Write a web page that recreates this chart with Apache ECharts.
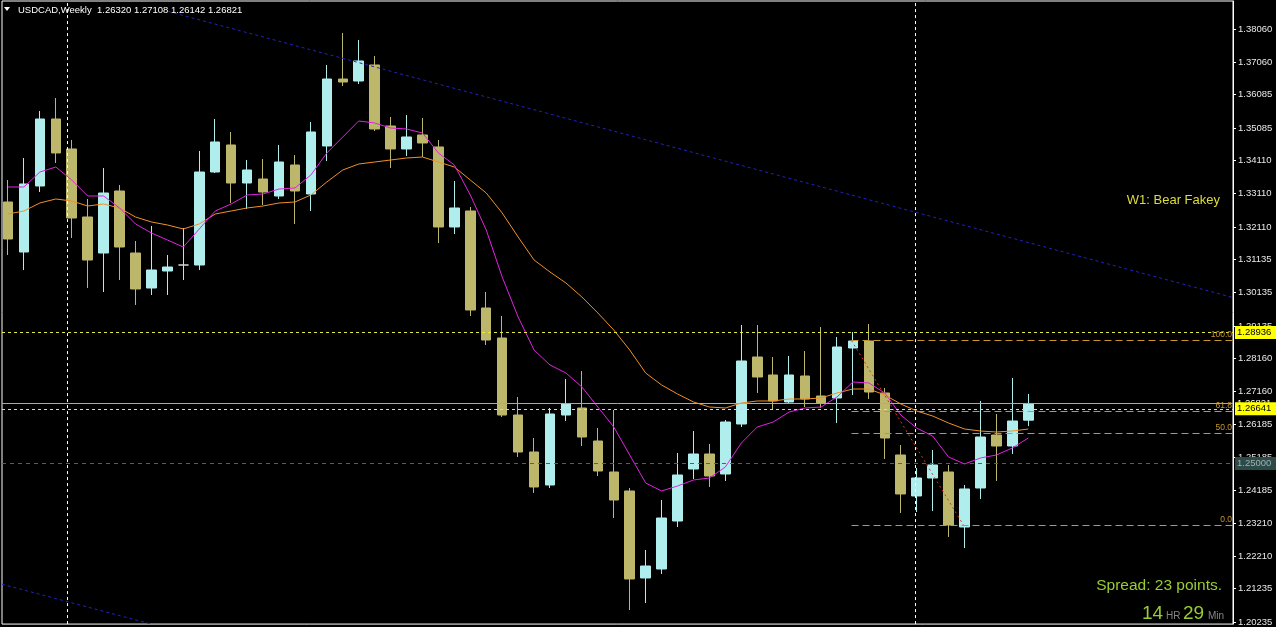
<!DOCTYPE html>
<html>
<head>
<meta charset="utf-8">
<script src="https://cdn.jsdelivr.net/npm/echarts@6/dist/echarts.min.js"></script>
<style>
html,body{margin:0;padding:0;background:#000;overflow:hidden;}
#c{width:1276px;height:627px;}
</style>
</head>
<body>
<div id="c"></div>
<script>
// ---------- DATA (weekly USDCAD) ----------
const symbolName = 'USDCAD,Weekly';
const opens = [1.32868,1.31367,1.33348,1.35359,1.34459,1.32418,1.31337,1.33198,1.31337,1.30287,
 1.30797,1.30977,1.30977,1.33768,1.34579,1.33438,1.33558,1.33048,1.33978,1.33108,
 1.34549,1.36559,1.36499,1.36980,1.35149,1.34459,1.34879,1.34519,1.32118,1.32598,
 1.29687,1.28786,1.26475,1.25365,1.24375,1.26475,1.26685,1.25695,1.24765,1.24195,
 1.21584,1.21854,1.23294,1.24855,1.25305,1.24705,1.26205,1.28216,1.27676,1.26866,
 1.27646,1.27046,1.26986,1.28486,1.28696,1.27136,1.25275,1.24045,1.24585,1.24765,
 1.23114,1.24285,1.25875,1.25545,1.26320];
const highs = [1.33528,1.34188,1.35599,1.35989,1.34729,1.32958,1.33888,1.33378,1.31697,1.32148,
 1.31277,1.32088,1.34399,1.35359,1.34969,1.34128,1.34158,1.34579,1.34278,1.35269,
 1.36980,1.37940,1.37730,1.37250,1.35419,1.35479,1.35389,1.34729,1.33498,1.32718,
 1.30167,1.29447,1.27016,1.25785,1.26685,1.27556,1.27796,1.26085,1.26625,1.24285,
 1.22424,1.23924,1.25335,1.25995,1.25605,1.26325,1.29176,1.29176,1.28216,1.28246,
 1.28396,1.29116,1.28816,1.28966,1.29206,1.27286,1.25575,1.24885,1.25425,1.24975,
 1.24375,1.26896,1.26505,1.27586,1.27108];
const lows = [1.31277,1.30827,1.33168,1.34038,1.31787,1.30287,1.30167,1.30527,1.29777,1.30077,
 1.30077,1.30527,1.30827,1.33738,1.32838,1.32658,1.32778,1.32958,1.32208,1.32598,
 1.34098,1.36349,1.36409,1.34999,1.33888,1.34248,1.34218,1.31637,1.31908,1.29447,
 1.28576,1.26415,1.25215,1.24135,1.24285,1.26295,1.25545,1.24645,1.23384,1.20623,
 1.20833,1.21704,1.23114,1.24555,1.24315,1.24495,1.26115,1.27136,1.26655,1.26806,
 1.26715,1.26685,1.26235,1.27076,1.26956,1.25155,1.23534,1.23564,1.23594,1.22814,
 1.22484,1.23954,1.24495,1.25305,1.26142];
const closes = [1.31757,1.33408,1.35359,1.34339,1.32388,1.31127,1.33138,1.31517,1.30257,1.30827,
 1.30917,1.30977,1.33768,1.34669,1.33438,1.33828,1.33168,1.34068,1.33198,1.34969,
 1.36559,1.36469,1.37100,1.35059,1.34459,1.34819,1.34639,1.32118,1.32688,1.29627,
 1.28726,1.26475,1.25365,1.24315,1.26505,1.26806,1.25815,1.24795,1.23924,1.21554,
 1.21944,1.23384,1.24675,1.25305,1.24645,1.26265,1.28096,1.27616,1.26896,1.27676,
 1.26956,1.26836,1.28516,1.28696,1.27166,1.25785,1.24105,1.24585,1.24975,1.23174,
 1.24255,1.25815,1.25545,1.26295,1.26821];
// magenta (fast) moving average
const maFast = [1.33318,1.33318,1.33768,1.33918,1.33528,1.33048,1.33048,1.32688,1.32208,1.31938,
 1.31727,1.31517,1.32058,1.32598,1.32808,1.33078,1.33108,1.33258,1.33288,1.33678,
 1.34339,1.34819,1.35299,1.35239,1.35089,1.35059,1.34939,1.34339,1.33978,1.33078,
 1.32028,1.30617,1.29417,1.28426,1.27976,1.27736,1.27316,1.26715,1.26115,1.25275,
 1.24435,1.24195,1.24345,1.24525,1.24585,1.24915,1.25635,1.26115,1.26265,1.26565,
 1.26685,1.26715,1.27016,1.27466,1.27436,1.27136,1.26475,1.26085,1.25845,1.25215,
 1.25005,1.25185,1.25275,1.25485,1.25785];
// orange (slow) moving average
const maSlow = [1.32508,1.32598,1.32838,1.32958,1.32898,1.32748,1.32808,1.32688,1.32418,1.32268,
 1.32178,1.32058,1.32208,1.32508,1.32598,1.32688,1.32748,1.32838,1.32868,1.33078,
 1.33468,1.33828,1.34008,1.34068,1.34128,1.34188,1.34218,1.34068,1.33918,1.33528,
 1.33138,1.32538,1.31818,1.31127,1.30767,1.30437,1.30017,1.29537,1.29026,1.28426,
 1.27736,1.27376,1.27106,1.26866,1.26715,1.26685,1.26836,1.26896,1.26896,1.26956,
 1.26956,1.26986,1.27136,1.27256,1.27256,1.27076,1.26806,1.26595,1.26445,1.26235,
 1.26055,1.25995,1.25965,1.25995,1.26055];
// right price-axis tick labels
const yTicks = [1.38060,1.37060,1.36085,1.35085,1.34110,1.33110,1.32110,1.31135,1.30135,1.29135,
 1.28160,1.27160,1.26185,1.25185,1.24185,1.23210,1.22210,1.21235,1.20235];
// horizontal price levels
const yellowLevels = [1.28936, 1.26641];
const grayLevel = 1.25000;
const bidPrice = 1.26821;
// fibonacci retracement (anchor bar index, high/low prices) and its levels
const fibStart = 53;
const fibHigh = 1.28696;
const fibLow = 1.23144;
const fibLevels = [100.0, 61.8, 50.0, 0.0];
const fibTrend = [[53, 1.28696], [60, 1.23144]];
// blue trend channel lines [bar index, price]
const upperTrend = [[10.3, 1.38585], [76.84375, 1.29987]];
const lowerTrend = [[-0.1, 1.21373], [9.3, 1.20164]];
// period separators (bar index)
const separators = [4, 57];
const textNote = 'W1: Bear Fakey';
const spreadText = 'Spread: 23 points.';
const timerHours = '14';
const timerMinutes = '29';

// ---------- CHART ----------
const SLOTS = 78;
const categories = Array.from({length: SLOTS}, (_, i) => 'W' + (i + 1));
const Y_MIN = 1.20173, Y_MAX = 1.38900;
const X_MIN = -0.09375, X_MAX = 76.84375;
const FONT = 'Liberation Sans, Arial, sans-serif';
const last = opens.length - 1;

const candleData = opens.map((o, i) => [o, closes[i], lows[i], highs[i]]);

const fibLines = fibLevels.map(lv => {
  const p = fibLow + (fibHigh - fibLow) * lv / 100;
  return [
    {coord: [fibStart, p], label: {show: true, position: 'insideEndTop', formatter: lv.toFixed(1),
      color: '#c8962c', fontSize: 8.5, fontFamily: FONT, distance: 1}},
    {coord: [X_MAX, p]}
  ];
});

const priceBox = (txt, bg, fg) => ({
  show: true, position: 'end', formatter: txt, color: fg, backgroundColor: bg,
  fontSize: 9.5, fontFamily: FONT, padding: [2, 5, 1, 2], distance: 2
});

const option = {
  backgroundColor: '#000000',
  animation: false,
  grid: [
    {left: -4.5, top: 1, width: 1248, height: 624},
    {left: 2, top: 1, width: 1231, height: 624, show: true, borderColor: '#ffffff', borderWidth: 1, backgroundColor: 'transparent'}
  ],
  xAxis: [
    {type: 'category', gridIndex: 0, data: categories, boundaryGap: true, show: false,
     axisLine: {onZero: false}},
    {type: 'value', gridIndex: 1, min: X_MIN, max: X_MAX, show: false, splitLine: {show: false},
     axisLine: {onZero: false}}
  ],
  yAxis: [
    {type: 'value', gridIndex: 0, min: Y_MIN, max: Y_MAX, show: false, splitLine: {show: false},
     axisLine: {onZero: false}},
    {type: 'value', gridIndex: 1, min: Y_MIN, max: Y_MAX, position: 'right',
     axisLine: {show: true, onZero: false, lineStyle: {color: '#ffffff', width: 1}},
     axisTick: {show: true, customValues: yTicks, length: 3, lineStyle: {color: '#ffffff'}},
     axisLabel: {show: true, customValues: yTicks, formatter: v => v.toFixed(5), color: '#e8e8e8',
       fontSize: 9.5, fontFamily: FONT, margin: 5, showMinLabel: true, showMaxLabel: true},
     splitLine: {show: false}}
  ],
  series: [
    { // period separators
      type: 'line', xAxisIndex: 1, yAxisIndex: 1, data: [], z: 1,
      markLine: {silent: true, precision: 5, symbol: ['none', 'none'], label: {show: false},
        lineStyle: {color: '#ffffff', type: [3, 3], width: 1},
        data: separators.map(s => ({xAxis: s}))}
    },
    { // candles
      type: 'candlestick', xAxisIndex: 0, yAxisIndex: 0, data: candleData, barWidth: 10, z: 2,
      itemStyle: {color: '#b0eeee', color0: '#bdb76b', borderColor: '#b0eeee', borderColor0: '#bdb76b',
        borderColorDoji: '#d8d8d8', borderWidth: 1}
    },
    {type: 'line', xAxisIndex: 0, yAxisIndex: 0, data: maSlow, symbol: 'none', z: 3,
     lineStyle: {color: '#f0902a', width: 1}},
    {type: 'line', xAxisIndex: 0, yAxisIndex: 0, data: maFast, symbol: 'none', z: 3,
     lineStyle: {color: '#e024e0', width: 1}},
    { // upper trend line + price levels
      type: 'line', xAxisIndex: 1, yAxisIndex: 1, data: upperTrend, symbol: 'none', clip: true, z: 4,
      lineStyle: {color: '#2222c0', width: 1, type: [3, 3]},
      markLine: {silent: true, precision: 5, symbol: ['none', 'none'],
        data: [
          {yAxis: bidPrice, lineStyle: {color: '#a8a8b4', type: 'solid', width: 1},
           label: priceBox(bidPrice.toFixed(5), 'transparent', '#ffffff')},
          {yAxis: grayLevel, lineStyle: {color: '#4e6462', type: [4, 4], width: 1},
           label: priceBox(grayLevel.toFixed(5), '#2c4a48', '#9fb0b0')},
          ...yellowLevels.map(v => ({yAxis: v, lineStyle: {color: '#e8e840', type: [3, 3], width: 1},
            label: priceBox(v.toFixed(5), '#ffff00', '#000000')}))
        ]}
    },
    {type: 'line', xAxisIndex: 1, yAxisIndex: 1, data: lowerTrend, symbol: 'none', clip: true, z: 4,
     lineStyle: {color: '#2222c0', width: 1, type: [3, 3]}},
    { // fib trend + levels
      type: 'line', xAxisIndex: 1, yAxisIndex: 1, data: fibTrend, symbol: 'none', clip: true, z: 4,
      lineStyle: {color: '#d83418', width: 1, type: [2, 3]},
      markLine: {silent: true, precision: 5, symbol: ['none', 'none'],
        lineStyle: {color: '#c8962c', type: [7, 4], width: 1},
        data: fibLines}
    }
  ],
  graphic: [
    {type: 'polygon', shape: {points: [[4, 7], [10, 7], [7, 11]]}, style: {fill: '#ffffff'}, z: 10},
    {type: 'text', x: 18, y: 10, z: 10, style: {
      text: symbolName + '  ' + [opens[last], highs[last], lows[last], closes[last]].map(v => v.toFixed(5)).join(' '),
      fill: '#ffffff', font: '9.5px ' + FONT, verticalAlign: 'middle', align: 'left'}},
    {type: 'text', x: 1220, y: 200, z: 10, style: {text: textNote, fill: '#dcdc3c',
      font: '13px ' + FONT, verticalAlign: 'middle', align: 'right'}},
    {type: 'text', x: 1222, y: 586, z: 10, style: {text: spreadText, fill: '#9acd32',
      font: '15.5px ' + FONT, verticalAlign: 'middle', align: 'right'}},
    {type: 'text', x: 1142, y: 623, z: 10, style: {text: timerHours, fill: '#9acd32',
      font: '19px ' + FONT, verticalAlign: 'bottom', align: 'left'}},
    {type: 'text', x: 1166, y: 621, z: 10, style: {text: 'HR', fill: '#868686',
      font: '10px ' + FONT, verticalAlign: 'bottom', align: 'left'}},
    {type: 'text', x: 1183, y: 623, z: 10, style: {text: timerMinutes, fill: '#9acd32',
      font: '19px ' + FONT, verticalAlign: 'bottom', align: 'left'}},
    {type: 'text', x: 1208, y: 621, z: 10, style: {text: 'Min', fill: '#868686',
      font: '10px ' + FONT, verticalAlign: 'bottom', align: 'left'}}
  ]
};

const chart = echarts.init(document.getElementById('c'), null, {renderer: 'canvas'});
chart.setOption(option);
</script>
</body>
</html>
